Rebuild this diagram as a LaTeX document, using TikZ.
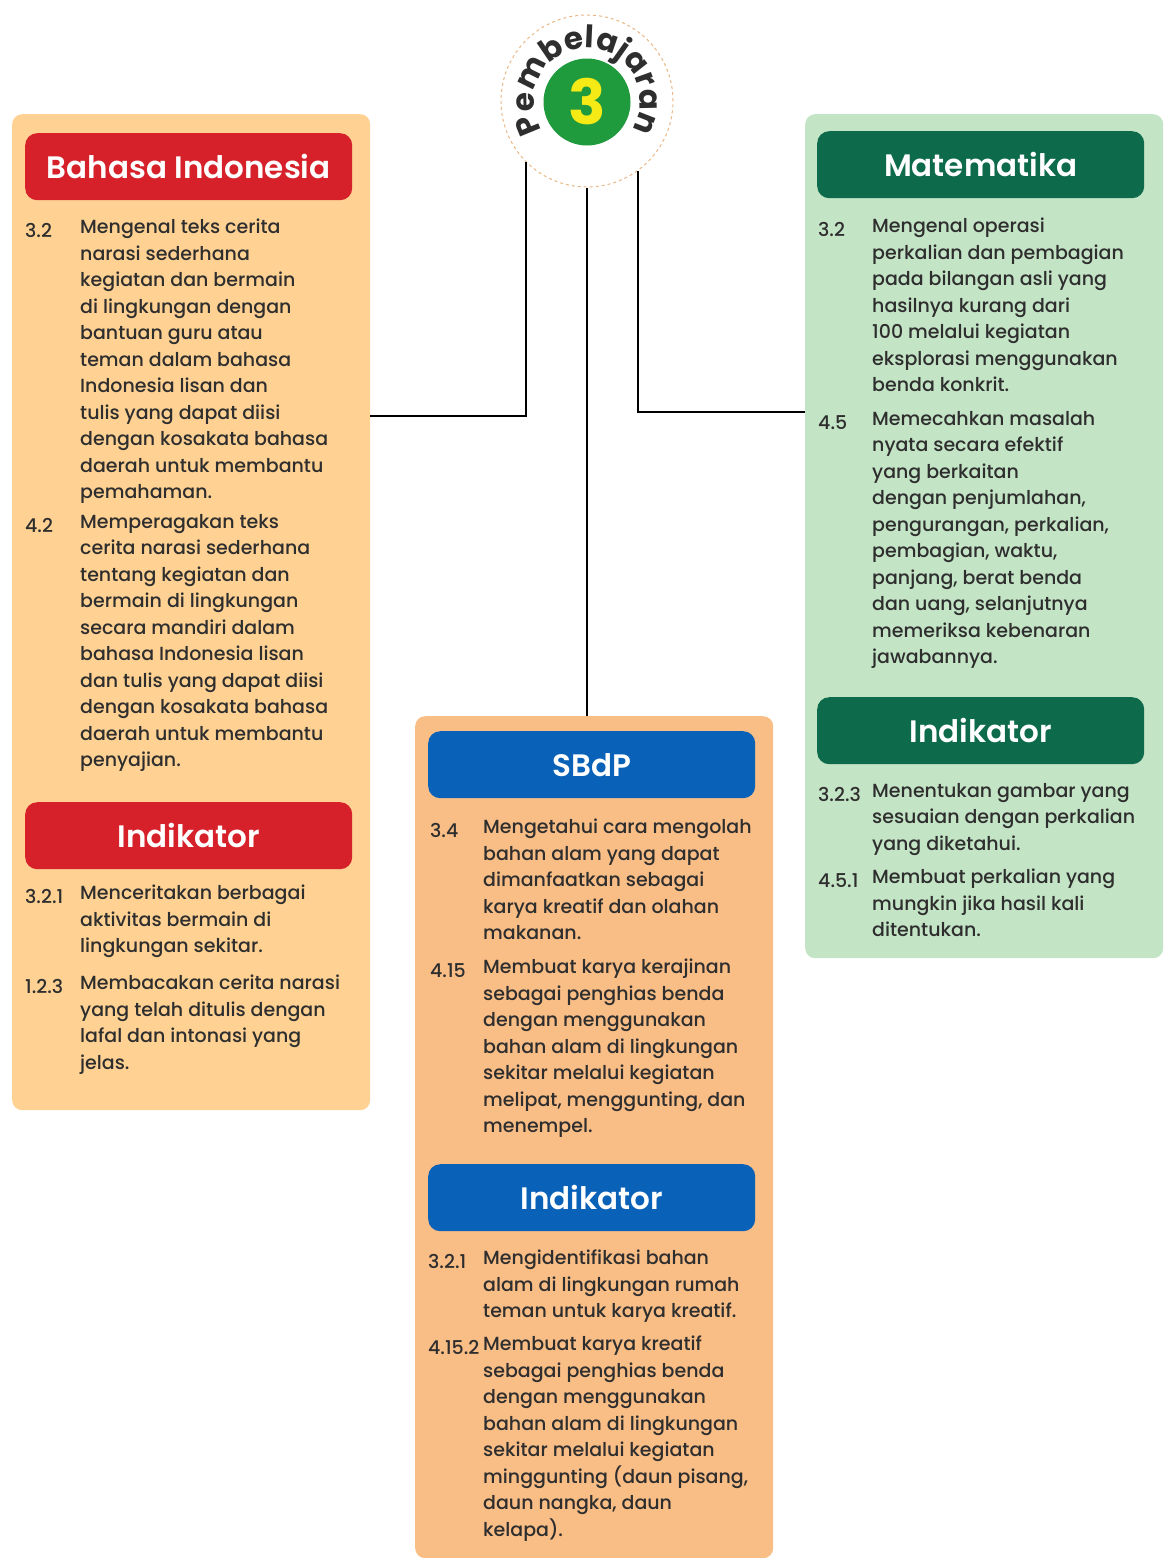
\documentclass[tikz,border=0pt]{standalone}
\usepackage{fontspec}
\setmainfont{Poppins}[UprightFont=* Medium, BoldFont=* SemiBold]
\newfontfamily\badgefont{Poppins}[UprightFont=* Bold]
\usetikzlibrary{decorations.text}

\definecolor{ink}{HTML}{2E2E2E}
\definecolor{bipanel}{HTML}{FFD293}
\definecolor{sbpanel}{HTML}{F9BD86}
\definecolor{mapanel}{HTML}{C4E4C6}
\definecolor{bired}{HTML}{D6212B}
\definecolor{sbblue}{HTML}{0A62B8}
\definecolor{magreen}{HTML}{0D6B4B}
\definecolor{numgreen}{HTML}{1F9A3C}
\definecolor{numyellow}{HTML}{F6EA16}
\definecolor{ring}{HTML}{E9B887}

\newcommand\bodyfont{\fontsize{19}{26.5}\selectfont}

\begin{document}
\begin{tikzpicture}[
    x=1pt,y=-1pt,
    panel/.style={rounded corners=10pt, anchor=north west, inner sep=0pt},
    head/.style={rounded corners=12pt, anchor=north west, inner sep=0pt,
      minimum width=327pt, minimum height=67pt, text=white,
      font=\fontsize{31}{34}\selectfont\bfseries},
    num/.style={anchor=north west, inner sep=0pt, text=ink, font=\bodyfont,
      execute at begin node=\strut},
    body/.style={num, align=left},
    link/.style={line width=2.5pt, black}
    ]
    \useasboundingbox (0,0) rectangle (1170,1558);

    % panels
    \node[panel, fill=bipanel, minimum width=358pt, minimum height=996pt] (bi) at (12,114) {};
    \node[panel, fill=mapanel, minimum width=358pt, minimum height=844pt] (ma) at (805,114) {};
    \node[panel, fill=sbpanel, minimum width=358pt, minimum height=842pt] (sb) at (415,716) {};

    % Bahasa Indonesia
    \node[head, fill=bired] (bihead) at (25,133) {Bahasa Indonesia};
    \node[num] (bi1n) at (25,219) {3.2};
    \node[body] (bi1) at (80,219) {Mengenal teks cerita\\narasi sederhana\\kegiatan dan bermain\\di lingkungan dengan\\bantuan guru atau\\teman dalam bahasa\\Indonesia lisan dan\\tulis yang dapat diisi\\dengan kosakata bahasa\\daerah untuk membantu\\pemahaman.};
    \node[num] (bi2n) at (25,514) {4.2};
    \node[body] (bi2) at (80,514) {Memperagakan teks\\cerita narasi sederhana\\tentang kegiatan dan\\bermain di lingkungan\\secara mandiri dalam\\bahasa Indonesia lisan\\dan tulis yang dapat diisi\\dengan kosakata bahasa\\daerah untuk membantu\\penyajian.};
    \node[head, fill=bired] (biind) at (25,802) {Indikator};
    \node[num] (bi3n) at (25,885) {3.2.1};
    \node[body] (bi3) at (80,885) {Menceritakan berbagai\\aktivitas bermain di\\lingkungan sekitar.};
    \node[num] (bi4n) at (25,975) {1.2.3};
    \node[body] (bi4) at (80,975) {Membacakan cerita narasi\\yang telah ditulis dengan\\lafal dan intonasi yang\\jelas.};

    % Matematika
    \node[head, fill=magreen] (mahead) at (817,131) {Matematika};
    \node[num] (ma1n) at (818,218) {3.2};
    \node[body] (ma1) at (872,218) {Mengenal operasi\\perkalian dan pembagian\\pada bilangan asli yang\\hasilnya kurang dari\\100 melalui kegiatan\\eksplorasi menggunakan\\benda konkrit.};
    \node[num] (ma2n) at (818,411) {4.5};
    \node[body] (ma2) at (872,411) {Memecahkan masalah\\nyata secara efektif\\yang berkaitan\\dengan penjumlahan,\\pengurangan, perkalian,\\pembagian, waktu,\\panjang, berat benda\\dan uang, selanjutnya\\memeriksa kebenaran\\jawabannya.};
    \node[head, fill=magreen] (maind) at (817,697) {Indikator};
    \node[num] (ma3n) at (818,783) {3.2.3};
    \node[body] (ma3) at (872,783) {Menentukan gambar yang\\sesuaian dengan perkalian\\yang diketahui.};
    \node[num] (ma4n) at (818,869) {4.5.1};
    \node[body] (ma4) at (872,869) {Membuat perkalian yang\\mungkin jika hasil kali\\ditentukan.};

    % SBdP
    \node[head, fill=sbblue] (sbhead) at (428,731) {SBdP};
    \node[num] (sb1n) at (430,819) {3.4};
    \node[body] (sb1) at (483,819) {Mengetahui cara mengolah\\bahan alam yang dapat\\dimanfaatkan sebagai\\karya kreatif dan olahan\\makanan.};
    \node[num] (sb2n) at (430,959) {4.15};
    \node[body] (sb2) at (483,959) {Membuat karya kerajinan\\sebagai penghias benda\\dengan menggunakan\\bahan alam di lingkungan\\sekitar melalui kegiatan\\melipat, menggunting, dan\\menempel.};
    \node[head, fill=sbblue] (sbind) at (428,1164) {Indikator};
    \node[num] (sb3n) at (428,1250) {3.2.1};
    \node[body] (sb3) at (483,1250) {Mengidentifikasi bahan\\alam di lingkungan rumah\\teman untuk karya kreatif.};
    \node[num] (sb4n) at (428,1336) {4.15.2};
    \node[body] (sb4) at (483,1336) {Membuat karya kreatif\\sebagai penghias benda\\dengan menggunakan\\bahan alam di lingkungan\\sekitar melalui kegiatan\\minggunting (daun pisang,\\daun nangka, daun\\kelapa).};

    % badge
    \node[circle, draw=ring, dashed, line width=1pt, fill=white, minimum size=172pt, inner sep=0pt] (circ) at (587,101) {};
    \node[circle, fill=numgreen, minimum size=87pt, inner sep=0pt, text=numyellow,
      font=\fontsize{62}{62}\badgefont] (num3) at (587,102) {3};
    \path[decorate, decoration={text along path, text align=center, text color=ink,
      text={|\fontsize{31}{31}\badgefont|Pembelajaran}}]
      (circ.center) ++(-215:53) arc[start angle=-215, end angle=35, radius=53];

    % links
    \draw[link] (circ.-135) |- ([yshift=-302pt]bi.north east);
    \draw[link] (circ.-54) |- ([yshift=-298pt]ma.north west);
    \draw[link] (circ.south) -- (circ.south |- sb.north);
\end{tikzpicture}
\end{document}
